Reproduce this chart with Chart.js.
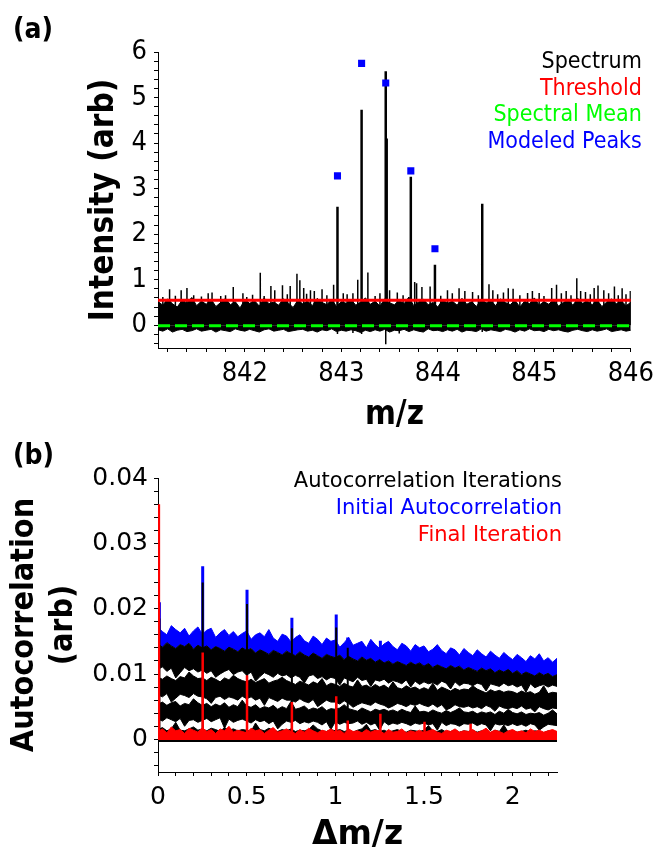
<!DOCTYPE html>
<html>
<head>
<meta charset="utf-8">
<script src="https://cdn.jsdelivr.net/npm/chart.js@4.4.1/dist/chart.umd.min.js"></script>
<style>
  body { margin: 0; background: #fff; width: 660px; height: 847px; position: relative; overflow: hidden; }
  canvas { position: absolute; left: 0; }
  #graficoA { top: 0; }
  #graficoB { top: 430px; }
  .painel { position: absolute; left: 13px; font: bold 28px "DejaVu Sans Condensed", "DejaVu Sans", sans-serif; color: #000; }
</style>
</head>
<body>
<canvas id="graficoA" width="660" height="430"></canvas>
<canvas id="graficoB" width="660" height="417"></canvas>
<div class="painel" style="top:12px">(a)</div>
<div class="painel" style="top:438px">(b)</div>
<script>
// ===== Painel (a): espectro =====
// envelope do ruído (x0.01), grade de 841.10 a 846.00 em passos de 0.05
const specInicio = 841.1, specPasso = 0.05;
const specTopo = [
  52,44,58,47,40,55,49,61,43,53, 46,57,41,50,59,45,52,38,56,48,
  54,42,60,47,51,44,58,49,39,55, 47,53,43,59,50,45,57,41,52,48,
  56,44,51,60,46,53,42,58,49,45, 55,47,62,43,51,57,45,50,40,56,
  48,53,44,59,46,52,41,57,49,54, 43,58,50,45,55,40,53,47,60,44,
  52,46,57,42,50,55,44,59,48,53, 45,56,41,51,58,47,54,43,50
];
const specBase = [
  -10,-13,-8,-15,-11,-9,-14,-12,-8,-13, -11,-9,-15,-10,-12,-14,-8,-11,-13,-9,
  -12,-15,-10,-8,-13,-11,-9,-14,-12,-10, -9,-13,-11,-15,-10,-12,-8,-14,-11,-13,
  -10,-12,-16,-11,-14,-10,-13,-9,-15,-11, -12,-9,-14,-10,-13,-15,-8,-12,-11,-14,
  -10,-13,-9,-15,-11,-12,-14,-8,-13,-10, -12,-14,-9,-11,-15,-10,-13,-8,-12,-11,
  -14,-9,-12,-10,-13,-15,-11,-9,-12,-14, -10,-13,-11,-8,-14,-12,-10,-13,-11
];
// picos do espectro
const picosMz  = [842.96, 843.21, 843.46, 843.47, 843.72, 843.97, 844.46];
const picosAlt = [2.60, 4.73, 5.58, 4.10, 3.26, 1.33, 2.67];
// espículas do ruído acima da banda
const ruidoMz = [841.22, 841.34, 841.40, 841.47, 841.62, 841.66, 841.88, 841.98, 842.08, 842.16,
  842.27, 842.31, 842.39, 842.47, 842.54, 842.57, 842.61, 842.68, 842.72, 842.80,
  842.92, 843.02, 843.12, 843.17, 843.275, 843.40, 843.50, 843.76, 843.78, 843.835,
  843.92, 844.10, 844.22, 844.28, 844.36, 844.53, 844.57, 844.73, 844.78, 844.93,
  844.98, 845.05, 845.18, 845.23, 845.33, 845.44, 845.48, 845.53, 845.62, 845.66,
  845.72, 845.83, 845.91, 845.995,
  841.15, 841.28, 841.55, 841.75, 841.80, 842.02, 842.20, 842.44, 842.64, 842.85,
  843.06, 843.35, 843.58, 843.64, 844.03, 844.15, 844.42, 844.62, 844.68, 844.85,
  845.10, 845.28, 845.38, 845.58, 845.77, 845.87, 845.95];
const ruidoAlt = [0.79, 0.77, 0.82, 0.66, 0.70, 0.72, 0.84, 0.70, 0.67, 1.15,
  0.86, 0.77, 0.88, 0.86, 1.13, 0.99, 0.82, 0.77, 0.75, 0.79,
  0.89, 0.70, 0.70, 1.00, 1.16, 0.70, 0.77, 0.95, 0.92, 0.84,
  0.85, 0.77, 0.81, 0.75, 0.73, 0.90, 0.77, 0.81, 0.80, 0.71,
  0.75, 0.71, 0.82, 0.89, 0.75, 1.03, 0.75, 0.73, 0.82, 0.87,
  0.77, 0.85, 0.81, 0.75,
  0.62, 0.65, 0.63, 0.64, 0.66, 0.62, 0.64, 0.68, 0.69, 0.66,
  0.68, 0.64, 0.72, 0.66, 0.65, 0.70, 0.66, 0.68, 0.72, 0.66,
  0.64, 0.70, 0.66, 0.68, 0.70, 0.66, 0.68];
// vales abaixo da banda
const valeMz  = [842.96, 843.21, 843.46, 844.46, 843.12, 843.60];
const valeAlt = [-0.19, -0.19, -0.42, -0.15, -0.17, -0.18];
// picos modelados
const modeloMz  = [842.96, 843.21, 843.46, 843.72, 843.97];
const modeloAlt = [3.28, 5.75, 5.32, 3.39, 1.68];
const limiar = 0.55;
const mediaEspectral = -0.01;

// ===== Painel (b): autocorrelação =====
// bandas (x1e-4), grade de 0 a 2.25 em passos de 0.025
const autoInicio = 0, autoPasso = 0.025;
const azulTopo = [
  171,165,160,174,168,163,170,158,166,172, 161,167,170,156,163,168,159,165,157,162,
  166,153,160,163,157,168,155,150,161,158, 149,156,160,151,147,158,153,145,155,150,
  152,141,148,156,144,147,150,140,153,145, 139,146,150,142,137,147,143,135,145,140,
  143,134,138,145,136,131,140,137,129,139, 133,128,137,131,126,135,129,124,133,127,
  122,130,125,119,128,123,131,120,125,118,124
];
const preto1Topo = [
  146,141,148,143,139,145,142,147,138,144, 140,143,137,142,139,135,141,138,134,140,
  136,139,132,137,134,130,136,133,129,135, 131,128,134,129,126,132,128,124,130,127,
  125,129,122,127,123,120,126,121,124,118, 122,117,120,115,119,116,113,118,114,117,
  112,116,110,114,111,108,113,109,112,106, 110,107,104,109,105,108,102,106,103,107,
  101,105,99,103,100,97,102,98,101,96,99
];
const preto1Base = [
  107,111,104,109,94,102,110,105,108,103, 106,101,105,95,100,104,107,99,103,105,
  98,103,89,96,102,99,95,101,97,99, 94,98,95,86,97,99,93,96,91,95,
  93,83,94,91,88,95,90,92,81,91, 89,92,86,90,88,85,91,80,89,84,
  88,85,87,83,89,86,77,88,82,86, 85,82,86,84,74,85,83,81,86,82,
  84,80,83,72,85,79,82,84,80,83,81
];
const preto2Topo = [
  95,92,97,93,90,96,94,103,97,93, 94,90,95,92,88,94,91,98,93,90,
  88,92,87,90,93,86,89,91,95,90, 87,84,89,86,83,88,85,93,82,86,
  84,81,86,82,80,91,81,83,79,84, 80,83,78,88,79,77,82,78,80,76,
  79,76,86,75,80,77,74,78,75,77, 76,82,77,74,71,76,73,75,72,74,
  73,70,74,71,73,69,72,82,70,72,71
];
const preto2Base = [
  68,65,70,57,63,69,67,64,70,66, 65,62,55,64,66,61,65,63,60,66,
  62,65,60,63,52,64,61,58,63,60, 60,57,62,58,56,61,50,55,60,57,
  57,54,59,55,49,53,56,54,52,57, 54,52,48,51,55,53,50,54,52,55,
  52,50,54,49,53,45,48,53,50,49, 51,48,50,47,52,49,43,51,48,47,
  49,47,51,46,48,42,50,47,45,48,47
];
const preto3Topo = [
  54,57,52,56,58,51,55,53,62,56, 52,55,50,54,51,56,49,53,50,60,
  51,49,53,47,50,48,52,46,50,47, 58,46,48,51,45,48,46,50,44,47,
  46,48,53,47,45,43,48,45,42,46, 44,46,43,45,42,46,43,41,51,42,
  43,41,45,42,40,44,41,44,48,42, 41,43,39,42,40,42,38,43,40,46,
  41,39,42,38,40,39,41,37,40,45,39
];
const preto3Base = [
  31,28,33,30,27,32,20,29,30,26, 29,32,27,30,33,17,31,26,29,31,
  28,25,30,27,29,24,28,16,23,28, 26,29,24,27,25,28,26,22,27,15,
  27,23,26,24,25,28,23,26,22,25, 14,27,22,25,23,26,24,21,25,23,
  25,22,24,14,26,21,24,23,20,24, 23,25,21,24,22,13,24,22,23,21,
  24,21,23,20,24,22,14,19,23,22,21
];
const preto4Topo = [
  15,18,13,16,26,14,13,16,19,14, 16,13,17,15,12,18,14,16,13,15,
  14,12,25,15,13,17,14,12,15,13, 16,12,14,13,15,22,16,13,12,15,
  13,15,12,14,11,14,16,23,13,15, 12,14,11,13,15,12,11,14,13,12,
  14,21,13,12,15,11,12,14,11,13, 12,14,11,13,12,10,14,12,22,11,
  13,11,12,14,11,13,12,10,13,12,11
];
const vermelhoTopo = [
  12,16,10,19,13,15,9,17,14,11, 18,12,15,9,16,13,20,11,14,12,
  10,17,13,15,9,14,18,11,13,16, 12,9,15,11,17,13,10,14,12,16,
  11,14,9,16,12,13,10,15,11,14, 13,9,15,11,12,16,10,13,11,14,
  10,13,15,11,9,14,12,16,11,13, 12,15,10,13,17,11,14,12,9,13,
  15,11,13,10,16,12,14,11,13,15,12
];
// picos de autocorrelação (x1e-4)
const azulPicosX   = [0.008, 0.252, 0.502, 0.755, 1.005, 1.07, 1.254, 1.503];
const azulPicosAlt = [210, 265, 229, 186, 191, 156, 151, 140];
const pretoPicosX   = [0.008, 0.252, 0.502, 0.755, 1.005, 1.07];
const pretoPicosAlt = [185, 240, 207, 170, 171, 140];
const vermPicosX   = [0.005, 0.252, 0.502, 0.755, 1.005, 1.07, 1.254, 1.503, 1.763];
const vermPicosAlt = [360, 133, 98, 57, 66, 29, 39, 27, 24];

// Função para montar série em grade
function serie(inicio, passo, valores, escala) {
    return valores.map((v, i) => ({ x: inicio + i * passo, y: v * escala }));
}

// Função para montar hastes verticais (da base até a altura)
function hastes(xs, alturas, escala, base) {
    const pts = [];
    const y0 = (base || 0) * escala;
    xs.forEach((x, i) => {
        pts.push({ x: x, y: y0 }, { x: x, y: alturas[i] * escala }, { x: x, y: null });
    });
    return pts;
}

function multiplo(v, m) {
    return Math.abs(v / m - Math.round(v / m)) < 1e-6;
}

// Legenda em texto alinhada à direita
const legendaTexto = {
    id: 'legendaTexto',
    afterDraw(chart, args, opts) {
        const ctx = chart.ctx;
        const area = chart.chartArea;
        ctx.save();
        ctx.font = opts.fonte;
        ctx.textAlign = 'right';
        ctx.textBaseline = 'middle';
        opts.textos.forEach((t, i) => {
            ctx.fillStyle = opts.cores[i];
            ctx.fillText(t, area.right + opts.dx, area.top + opts.dy + i * opts.passo);
        });
        ctx.restore();
    }
};

const condensada = '"DejaVu Sans Condensed", "DejaVu Sans", sans-serif';
const normal = '"DejaVu Sans", sans-serif';

function linha(dados, cor, largura, extra) {
    return Object.assign({ data: dados, borderColor: cor, backgroundColor: cor, borderWidth: largura, pointRadius: 0, fill: false }, extra || {});
}

// ---- Gráfico (a) ----
new Chart(document.getElementById('graficoA'), {
    type: 'line',
    data: {
        datasets: [
            {
                label: 'Modeled Peaks',
                data: modeloMz.map((x, i) => ({ x: x, y: modeloAlt[i] })),
                showLine: false, pointStyle: 'rect', pointRadius: 5, pointBorderWidth: 0,
                pointBackgroundColor: '#0000ff', backgroundColor: '#0000ff', borderColor: '#0000ff'
            },
            linha([{ x: specInicio, y: limiar }, { x: 846, y: limiar }], '#ff0000', 3, { label: 'Threshold' }),
            linha([{ x: specInicio, y: mediaEspectral }, { x: 846, y: mediaEspectral }], '#00ff00', 3, { label: 'Spectral Mean', borderDash: [12, 5] }),
            linha(hastes(picosMz, picosAlt, 1), '#000', 2.5, { label: 'picos' }),
            linha(hastes(ruidoMz.concat(valeMz), ruidoAlt.concat(valeAlt), 1), '#000', 1.5, { label: 'ruido' }),
            linha(serie(specInicio, specPasso, specTopo, 0.01), '#000', 1, { label: 'Spectrum', fill: { value: 0 } }),
            linha(serie(specInicio, specPasso, specBase, 0.01), '#000', 1, { label: 'base', fill: { value: 0 } })
        ]
    },
    options: {
        responsive: false,
        animation: false,
        devicePixelRatio: 1,
        layout: { padding: { top: 52, right: 26, left: 0, bottom: 0 } },
        plugins: {
            legend: { display: false },
            tooltip: { enabled: false },
            legendaTexto: {
                fonte: '23px ' + condensada,
                textos: ['Spectrum', 'Threshold', 'Spectral Mean', 'Modeled Peaks'],
                cores: ['#000000', '#ff0000', '#00ff00', '#0000ff'],
                dx: 11, dy: 10, passo: 26.7
            }
        },
        scales: {
            x: {
                type: 'linear', min: 841.1, max: 846,
                afterFit: (s) => { s.height = 82; },
                border: { display: true, color: '#000', width: 1 },
                grid: { drawOnChartArea: false, color: '#000', tickLength: 4 },
                ticks: {
                    stepSize: 0.2, autoSkip: false, maxRotation: 0, includeBounds: false, padding: 6,
                    color: '#000', font: { family: condensada, size: 27 },
                    callback: (v) => multiplo(v, 1) ? String(Math.round(v)) : ''
                },
                title: { display: true, text: 'm/z', color: '#000', font: { family: condensada, weight: 'bold', size: 33 }, padding: { top: 0, bottom: -5 } }
            },
            y: {
                type: 'linear', min: -0.5, max: 6,
                afterFit: (s) => { s.width = 158; },
                border: { display: true, color: '#000', width: 1 },
                grid: { drawOnChartArea: false, color: '#000', tickLength: 4 },
                ticks: {
                    stepSize: 0.2, autoSkip: false, includeBounds: false, padding: 7,
                    color: '#000', font: { family: condensada, size: 27 },
                    callback: (v) => multiplo(v, 1) ? String(Math.round(v)) : ''
                },
                title: { display: true, text: 'Intensity (arb)', color: '#000', font: { family: condensada, weight: 'bold', size: 33 }, padding: { top: 85, bottom: 0 } }
            }
        }
    },
    plugins: [legendaTexto]
});

// ---- Gráfico (b) ----
const escalaB = 1e-4;
const dadosB = [
    linha(hastes(vermPicosX, vermPicosAlt, escalaB), '#ff0000', 2.5),
    linha(serie(autoInicio, autoPasso, vermelhoTopo, escalaB), '#ff0000', 1, { fill: { value: -0.0001 } }),
    linha(serie(autoInicio, autoPasso, preto4Topo, escalaB), '#000', 1, { fill: { value: -0.0004 } }),
    linha(hastes(pretoPicosX, pretoPicosAlt, escalaB), '#000', 2),
    linha(serie(autoInicio, autoPasso, preto3Topo, escalaB), '#000', 1, { fill: '+1' }),
    linha(serie(autoInicio, autoPasso, preto3Base, escalaB), '#000', 1),
    linha(serie(autoInicio, autoPasso, preto2Topo, escalaB), '#000', 1, { fill: '+1' }),
    linha(serie(autoInicio, autoPasso, preto2Base, escalaB), '#000', 1),
    linha(serie(autoInicio, autoPasso, preto1Topo, escalaB), '#000', 1, { fill: '+1' }),
    linha(serie(autoInicio, autoPasso, preto1Base, escalaB), '#000', 1),
    linha(hastes(azulPicosX, azulPicosAlt, escalaB, 112), '#0000ff', 3),
    linha(serie(autoInicio, autoPasso, azulTopo, escalaB), '#0000ff', 1, { fill: 8 })
];

new Chart(document.getElementById('graficoB'), {
    type: 'line',
    data: { datasets: dadosB },
    options: {
        responsive: false,
        animation: false,
        devicePixelRatio: 1,
        layout: { padding: { top: 48, right: 103, left: 0, bottom: 0 } },
        plugins: {
            legend: { display: false },
            tooltip: { enabled: false },
            legendaTexto: {
                fonte: '21px ' + normal,
                textos: ['Autocorrelation Iterations', 'Initial Autocorrelation', 'Final Iteration'],
                cores: ['#000000', '#0000ff', '#ff0000'],
                dx: 5, dy: 4, passo: 27
            }
        },
        scales: {
            x: {
                type: 'linear', min: 0, max: 2.25,
                afterFit: (s) => { s.height = 75; },
                border: { display: true, color: '#000', width: 1 },
                grid: { drawOnChartArea: false, color: '#000', tickLength: 4 },
                ticks: {
                    stepSize: 0.1, autoSkip: false, maxRotation: 0, includeBounds: false, padding: 6,
                    color: '#000', font: { family: normal, size: 25 },
                    callback: (v) => multiplo(v, 0.5) ? String(Number(v.toFixed(1))) : ''
                },
                title: { display: true, text: 'Δm/z', color: '#000', font: { family: normal, weight: 'bold', size: 33 }, padding: { top: 0, bottom: -8 } }
            },
            y: {
                type: 'linear', min: -0.005, max: 0.04,
                afterFit: (s) => { s.width = 158; },
                border: { display: true, color: '#000', width: 1 },
                grid: { drawOnChartArea: false, color: '#000', tickLength: 4 },
                ticks: {
                    stepSize: 0.002, autoSkip: false, includeBounds: false, padding: 6,
                    color: '#000', font: { family: normal, size: 25 },
                    callback: (v) => multiplo(v, 0.01) ? (Math.abs(v) < 1e-9 ? '0' : v.toFixed(2)) : ''
                },
                title: {
                    display: true, text: ['Autocorrelation', '(arb)'], color: '#000',
                    font: { family: condensada, weight: 'bold', size: 32, lineHeight: 1.22 },
                    padding: { top: 5, bottom: 0 }
                }
            }
        }
    },
    plugins: [legendaTexto]
});
</script>
</body>
</html>
